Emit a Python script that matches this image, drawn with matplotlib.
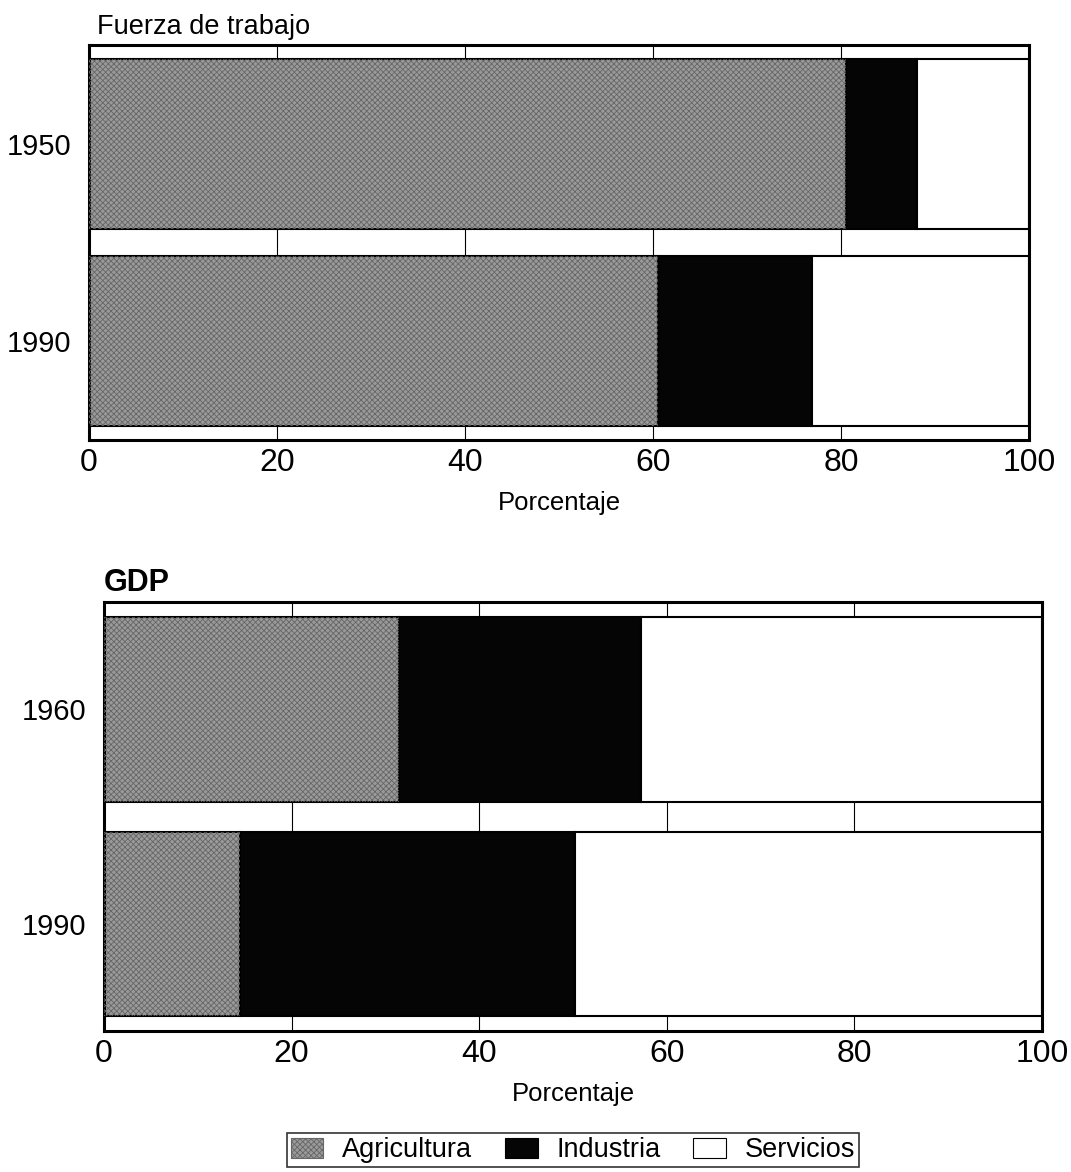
"""
Fuerza de trabajo / GDP por sector - barras horizontales apiladas
"""
import matplotlib
matplotlib.use('Agg')
import matplotlib.pyplot as plt
from matplotlib.patches import Patch

plt.rcParams['font.family'] = ['Liberation Sans', 'DejaVu Sans']
plt.rcParams['hatch.linewidth'] = 0.6

sectors = ['Agricultura', 'Industria', 'Servicios']

labor_years = ['1950', '1990']
labor_agri = [80.5, 60.5]
labor_ind = [7.6, 16.4]
labor_serv = [11.9, 23.1]

gdp_years = ['1960', '1990']
gdp_agri = [31.5, 14.5]
gdp_ind = [25.8, 35.7]
gdp_serv = [42.7, 49.8]

xticks = [0, 20, 40, 60, 80, 100]

agri_color = '#9a9a9a'
ind_color = '#050505'
serv_color = 'white'


def draw_panel(ax, years, agri, ind, serv):
    ypos = [1, 0]
    left_ind = agri
    left_serv = [a + b for a, b in zip(agri, ind)]
    ax.barh(ypos, agri, height=0.86, color=agri_color, edgecolor='black',
            linewidth=1.5, zorder=2)
    # screen-tone texture on agriculture
    ax.barh(ypos, agri, height=0.86, color='none', edgecolor='#666666',
            linewidth=0, hatch='xxxxxx', zorder=3)
    ax.barh(ypos, ind, left=left_ind, height=0.86, color=ind_color,
            edgecolor='black', linewidth=1.5, zorder=2)
    ax.barh(ypos, serv, left=left_serv, height=0.86, color=serv_color,
            edgecolor='black', linewidth=1.5, zorder=2)

    ax.set_xlim(0, 100)
    ax.set_ylim(-0.5, 1.5)
    ax.set_yticks(ypos)
    ax.set_yticklabels(years, fontsize=21)
    ax.set_xticks(xticks)
    ax.set_xticklabels([str(t) for t in xticks], fontsize=23)
    ax.tick_params(axis='both', length=0, pad=6)
    ax.tick_params(axis='y', pad=13)
    for t in [20, 40, 60, 80]:
        ax.axvline(t, color='black', linewidth=0.8, zorder=1)
    for s in ax.spines.values():
        s.set_linewidth(2.2)
    ax.set_xlabel('Porcentaje', fontsize=18.5, labelpad=9)


fig = plt.figure(figsize=(10.71, 11.72), dpi=100)

ax1 = fig.add_axes([0.0831, 0.6246, 0.8777, 0.337])
draw_panel(ax1, labor_years, labor_agri, labor_ind, labor_serv)
ax1.set_title('Fuerza de trabajo', fontsize=19.5, loc='left', x=0.009, pad=8)

ax2 = fig.add_axes([0.0971, 0.1203, 0.8758, 0.366])
draw_panel(ax2, gdp_years, gdp_agri, gdp_ind, gdp_serv)
ax2.set_title('GDP', fontsize=22, loc='left', x=0.0, pad=8, fontweight='bold')

handles = [
    Patch(facecolor=agri_color, edgecolor='#666666', hatch='xxxxxx', linewidth=0.8),
    Patch(facecolor=ind_color, edgecolor='black', linewidth=0.8),
    Patch(facecolor=serv_color, edgecolor='black', linewidth=0.8),
]
leg = fig.legend(handles, sectors, loc='center', bbox_to_anchor=(0.535, 0.0185),
                 ncol=3, fontsize=19.5, frameon=True, fancybox=False,
                 edgecolor='black', handlelength=1.2, handleheight=0.8,
                 columnspacing=1.2, handletextpad=0.7, borderpad=0.15)
leg.get_frame().set_linewidth(1.2)

fig.savefig('out.png', dpi=100)
